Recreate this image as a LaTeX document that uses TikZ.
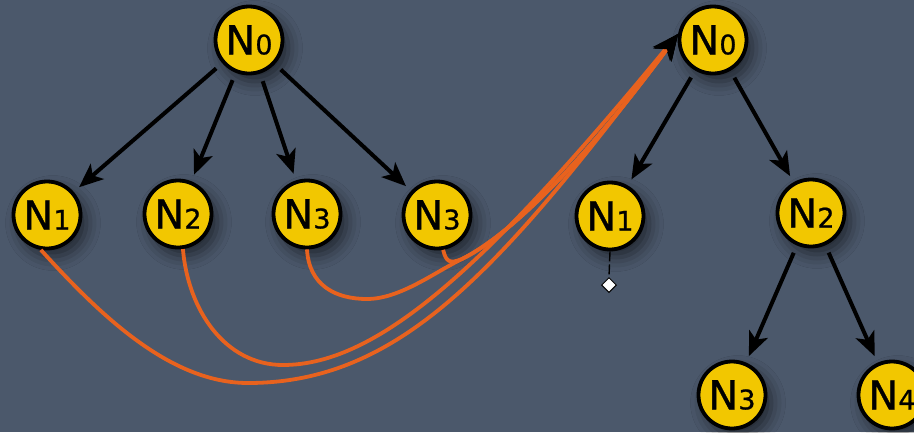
\documentclass[tikz,border=0pt]{standalone}
\usepackage{fontspec}
\setmainfont{DejaVu Sans}
\newfontfamily\nfont{DejaVu Sans}[FakeBold=0.8]
\usetikzlibrary{arrows.meta,shadows.blur,shapes.geometric}
\definecolor{bgc}{HTML}{4B586B}
\definecolor{nodey}{HTML}{F2C700}
\definecolor{orng}{HTML}{E8621E}
\newcommand{\nlbl}[1]{{\nfont\fontsize{40}{40}\selectfont N}{\nfont\fontsize{27}{27}\selectfont #1}}
\tikzset{
  tnode/.style={circle,draw=black,line width=3.8pt,fill=nodey,minimum size=67pt,inner sep=0pt,
    blur shadow={shadow xshift=6pt,shadow yshift=-8pt,shadow blur radius=14pt,shadow opacity=55}},
  tedge/.style={line width=4pt,-{Stealth[length=24pt,width=20pt,inset=6pt]},shorten <=8pt,shorten >=7pt},
  oedge/.style={line width=3.8pt,draw=orng,-{Stealth[black,length=26pt,width=22pt,inset=7pt]}},
  dmark/.style={diamond,draw=black,fill=white,line width=1pt,minimum size=15pt,inner sep=0pt},
  dline/.style={line width=1.4pt,dash pattern=on 10pt off 3pt}
}
\begin{document}
\begin{tikzpicture}[x=1pt,y=-1pt]
\clip (0,0) rectangle (914,432);
\fill[bgc] (0,0) rectangle (914,432);
% left tree
\node[tnode] (L0) at (249,40) {\nlbl{0}};
\node[tnode] (L1) at (47,215) {\nlbl{1}};
\node[tnode] (L2) at (178,214) {\nlbl{2}};
\node[tnode] (L3) at (307,214) {\nlbl{3}};
\node[tnode] (L3b) at (437,215) {\nlbl{3}};
% right tree
\node[tnode] (R0) at (713,40) {\nlbl{0}};
\node[tnode] (R1) at (610,216) {\nlbl{1}};
\node[tnode] (R2) at (811,213) {\nlbl{2}};
\node[tnode] (R3) at (732,395) {\nlbl{3}};
\node[tnode] (R4) at (892,395) {\nlbl{4}};
\node[dmark] (dm) at (609,285) {};
\coordinate (j) at (462,259);
% tree edges
\draw[tedge] (L0) -- (L1);
\draw[tedge] (L0) -- (L2);
\draw[tedge] (L0) -- (L3);
\draw[tedge] (L0) -- (L3b);
\draw[tedge] (R0) -- (R1);
\draw[tedge] (R0) -- (R2);
\draw[tedge] (R2) -- (R3);
\draw[tedge] (R2) -- (R4);
\draw[dline] (R1.south) -- (dm.north);
% orange curves
\draw[oedge] (L1.-100) .. controls (100,315) and (170,383) .. (248,383) .. controls (400,383) and (500,270) .. (R0.170);
\draw[oedge] (L2.-82) .. controls (188,310) and (225,365) .. (283,365) .. controls (380,365) and (490,262) .. (R0.170);
\draw[oedge] (L3.-90) .. controls (309,285) and (335,299) .. (367,299) .. controls (400,299) and (435,272) .. (j) .. controls (520,230) and (600,140) .. (R0.170);
\draw[oedge] (L3b.-80) .. controls (446,262) and (450,264) .. (j) .. controls (520,230) and (600,140) .. (R0.170);
\end{tikzpicture}
\end{document}
